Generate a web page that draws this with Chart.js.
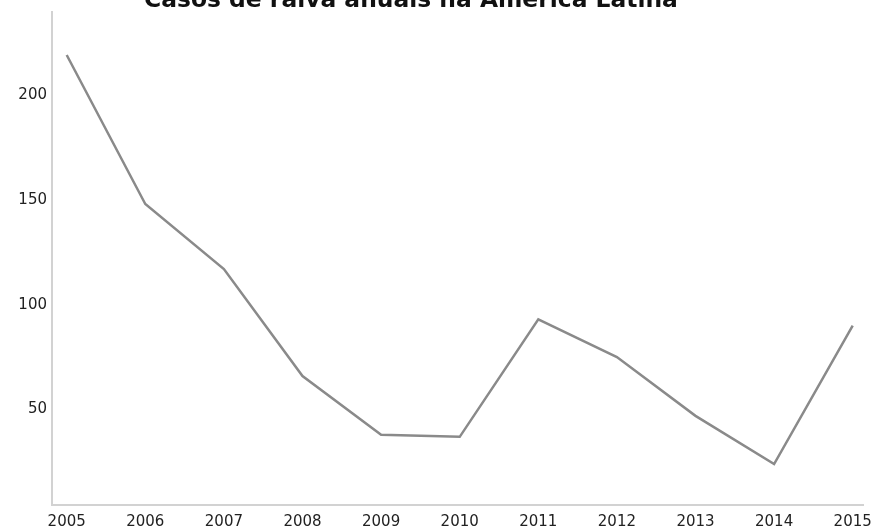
<!DOCTYPE html>
<html>
<head>
<meta charset="utf-8">
<script src="https://cdn.jsdelivr.net/npm/chart.js@4.4.1/dist/chart.umd.min.js"></script>
<style>
  html, body { margin: 0; padding: 0; background: #fff; overflow: hidden; width: 876px; height: 530px; }
  #wrap { position: absolute; left: 0; top: -20px; width: 876px; height: 560px; }
</style>
</head>
<body>
<div id="wrap"><canvas id="c"></canvas></div>
<script>
const titleText = 'Casos de raiva anuais na América Latina';
const years = [2005, 2006, 2007, 2008, 2009, 2010, 2011, 2012, 2013, 2014, 2015];
const cases = [219, 148, 117, 66, 38, 37, 93, 75, 47, 24, 90];
const yTicks = [50, 100, 150, 200];

const shiftTitle = {
  id: 'shiftTitle',
  afterLayout(chart) {
    if (chart.titleBlock) { chart.titleBlock.left -= 41; }
  }
};

new Chart(document.getElementById('c'), {
  type: 'line',
  data: {
    datasets: [{
      data: years.map((y, i) => ({ x: y, y: cases[i] })),
      borderColor: '#8a8a8a',
      borderWidth: 2.5,
      pointRadius: 0,
      tension: 0,
      fill: false
    }]
  },
  options: {
    responsive: true,
    maintainAspectRatio: false,
    animation: false,
    layout: { padding: { left: 0, right: 13, top: 0, bottom: 0 } },
    plugins: {
      legend: { display: false },
      tooltip: { enabled: false },
      title: {
        display: true,
        text: titleText,
        color: '#111',
        font: { family: 'DejaVu Sans', size: 23.4, weight: 'bold', lineHeight: 1 },
        padding: { top: 9, bottom: 0 }
      }
    },
    scales: {
      x: {
        type: 'linear',
        min: 2004.813,
        max: 2015.131,
        grid: { display: false, drawTicks: false },
        border: { display: true, color: '#d2d2d2', width: 2 },
        afterBuildTicks: s => { s.ticks = years.map(v => ({ value: v })); },
        afterFit: s => { s.height = 35; s.paddingLeft = 0; s.paddingRight = 0; },
        ticks: {
          padding: 8,
          color: '#222',
          maxRotation: 0,
          autoSkip: false,
          font: { family: 'DejaVu Sans', size: 15 },
          callback: v => String(v)
        }
      },
      y: {
        min: 4.52,
        max: 239.3,
        grid: { display: false, drawTicks: false },
        border: { display: true, color: '#d2d2d2', width: 2 },
        afterBuildTicks: s => { s.ticks = yTicks.map(v => ({ value: v })); },
        afterFit: s => { s.width = 52; s.paddingTop = 0; s.paddingBottom = 0; },
        ticks: {
          padding: 5,
          color: '#222',
          font: { family: 'DejaVu Sans', size: 15 },
          callback: v => String(v)
        }
      }
    }
  },
  plugins: [shiftTitle]
});
</script>
</body>
</html>
